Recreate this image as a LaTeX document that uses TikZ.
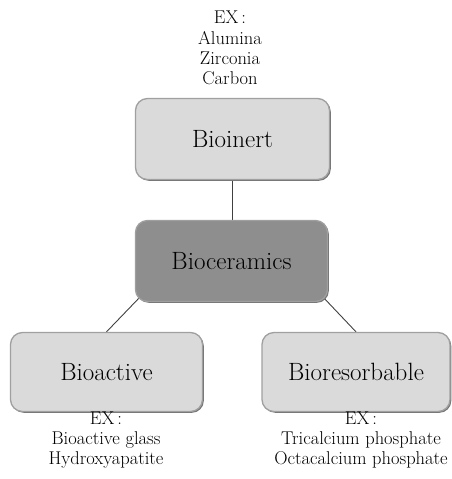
\documentclass[tikz,border=0pt]{standalone}
\usetikzlibrary{shadows,backgrounds,calc}
\definecolor{lightbox}{HTML}{DADADA}
\definecolor{darkbox}{HTML}{8E8E8E}
\definecolor{edgegray}{HTML}{A0A0A0}
\tikzset{
  catbox/.style={rectangle, rounded corners=12pt, fill=lightbox, draw=edgegray, line width=1.3pt,
    drop shadow={shadow xshift=1.3pt, shadow yshift=-1.3pt, fill=black!55, opacity=1},
    font=\fontsize{25}{28}\selectfont, inner sep=0pt},
  rootbox/.style={catbox, fill=darkbox, draw=darkbox!85!white},
  extext/.style={align=center, font=\fontsize{18.5}{20.3}\selectfont, inner sep=0pt},
  link/.style={draw=black!75, line width=0.9pt}
}
\begin{document}
\begin{tikzpicture}[x=1pt,y=-1pt]
\useasboundingbox (0,0) rectangle (452,479);
\node[catbox, minimum width=194pt, minimum height=81pt] (bioinert) at (232.5,139) {Bioinert};
\node[rootbox, minimum width=192pt, minimum height=81pt] (bioceramics) at (231.5,261) {Bioceramics};
\node[catbox, minimum width=192pt, minimum height=79pt] (bioactive) at (106.5,372) {Bioactive};
\node[catbox, minimum width=188pt, minimum height=79pt] (bioresorbable) at (356,372) {Bioresorbable};
\node[extext] (exinert) at (230,48) {EX\,:\\Alumina\\Zirconia\\Carbon};
\node[extext] (exactive) at (106,440) {EX\,:\\Bioactive glass\\Hydroxyapatite};
\node[extext] (exresorb) at (361,440) {EX\,:\\Tricalcium phosphate\\Octacalcium phosphate};
\begin{scope}[on background layer]
\draw[link] (bioinert.south) -- (bioinert.south |- bioceramics.north);
\draw[link] ($(bioceramics.south west)+(6,-6)$) -- (bioactive.north);
\draw[link] ($(bioceramics.south east)+(-6,-6)$) -- (bioresorbable.north);
\end{scope}
\end{tikzpicture}
\end{document}
